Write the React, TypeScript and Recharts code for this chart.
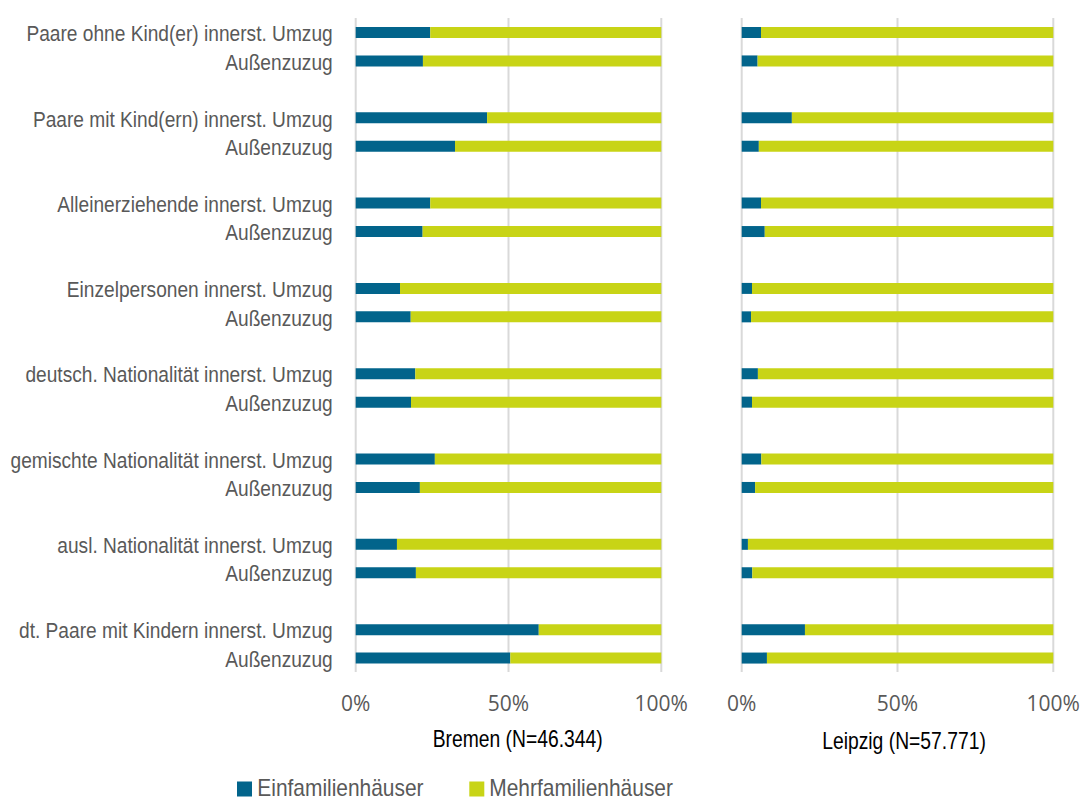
import React from 'react';
import { BarChart, Bar, XAxis, YAxis, CartesianGrid } from 'recharts';

// Row labels, two rows (inner-city move / in-migration) per household type
const categories = [
  'Paare ohne Kind(er) innerst. Umzug',
  'Außenzuzug',
  'Paare mit Kind(ern) innerst. Umzug',
  'Außenzuzug',
  'Alleinerziehende innerst. Umzug',
  'Außenzuzug',
  'Einzelpersonen innerst. Umzug',
  'Außenzuzug',
  'deutsch. Nationalität innerst. Umzug',
  'Außenzuzug',
  'gemischte Nationalität innerst. Umzug',
  'Außenzuzug',
  'ausl. Nationalität innerst. Umzug',
  'Außenzuzug',
  'dt. Paare mit Kindern innerst. Umzug',
  'Außenzuzug',
];

// Share of moves (%) by building type
const bremenEinfamilien = [24.4, 22.0, 43.0, 32.5, 24.4, 21.9, 14.5, 18.0, 19.5, 18.1, 25.9, 21.0, 13.5, 19.7, 59.9, 50.6];
const bremenMehrfamilien = [75.6, 78.0, 57.0, 67.5, 75.6, 78.1, 85.5, 82.0, 80.5, 81.9, 74.1, 79.0, 86.5, 80.3, 40.1, 49.4];
const leipzigEinfamilien = [6.2, 5.1, 16.1, 5.5, 6.2, 7.4, 3.3, 3.0, 5.2, 3.3, 6.3, 4.3, 2.0, 3.4, 20.3, 8.1];
const leipzigMehrfamilien = [93.8, 94.9, 83.9, 94.5, 93.8, 92.6, 96.7, 97.0, 94.8, 96.7, 93.7, 95.7, 98.0, 96.6, 79.7, 91.9];

const percentTicks = [0, 50, 100];
const seriesNames = ['Einfamilienhäuser', 'Mehrfamilienhäuser'];
const panelTitles = ['Bremen (N=46.344)', 'Leipzig (N=57.771)'];

const COLOR_EFH = '#02648b';
const COLOR_MFH = '#c8d416';
const GRID = '#d9d9d9';
const TEXT_GRAY = '#595959';
const SANS = '"Liberation Sans", Arial, sans-serif';

type Row = { id: string; label: string; efh?: number; mfh?: number };

// Insert an empty row between household groups to space them apart
function buildRows(efh: number[], mfh: number[]): Row[] {
  const rows: Row[] = [];
  categories.forEach((label, i) => {
    if (i > 0 && i % 2 === 0) rows.push({ id: `gap${i}`, label: '' });
    rows.push({ id: `row${i}`, label, efh: efh[i], mfh: mfh[i] });
  });
  return rows;
}

const bremenRows = buildRows(bremenEinfamilien, bremenMehrfamilien);
const leipzigRows = buildRows(leipzigEinfamilien, leipzigMehrfamilien);
const labelById: Record<string, string> = {};
bremenRows.forEach((r) => (labelById[r.id] = r.label));

// Horizontally condensed text (narrow sans look)
const NarrowText = ({ x, y, squeeze, anchor = 'start', fill, size, children }: any) => (
  <g transform={`translate(${x},${y}) scale(${squeeze},1)`}>
    <text x={0} y={0} textAnchor={anchor} fill={fill} fontFamily={SANS} fontSize={size}>
      {children}
    </text>
  </g>
);

const PercentTick = (props: any) => {
  const { x, y, payload } = props;
  return (
    <text x={x} y={y + 39} textAnchor="middle" fill={TEXT_GRAY} fontFamily='"Open Sans", sans-serif' fontSize={21}>
      {`${payload.value}%`}
    </text>
  );
};

const CategoryTick = (props: any) => {
  const { x, y, payload } = props;
  const label = labelById[payload.value] || '';
  if (!label) return null;
  return (
    <NarrowText x={x - 23} y={y + 9} squeeze={0.87} anchor="end" fill={TEXT_GRAY} size={22}>
      {label}
    </NarrowText>
  );
};

const PLOT_TOP = 18;
const X_AXIS_HEIGHT = 129;
const HEIGHT = 801;

export default function App() {
  return (
    <div style={{ position: 'absolute', left: 0, top: 0, width: 1082, height: 801, background: '#ffffff', overflow: 'hidden' }}>
      <div style={{ position: 'absolute', left: 0, top: 0 }}>
        <BarChart
          width={700}
          height={HEIGHT}
          data={bremenRows}
          layout="vertical"
          margin={{ top: PLOT_TOP, right: 38.7, bottom: 0, left: 0 }}
          barSize={11}
        >
          <CartesianGrid horizontal={false} stroke={GRID} strokeWidth={2} />
          <XAxis
            type="number"
            domain={[0, 100]}
            ticks={percentTicks}
            height={X_AXIS_HEIGHT}
            axisLine={false}
            tickLine={false}
            tickSize={0}
            tickMargin={0}
            tick={<PercentTick />}
            interval={0}
          />
          <YAxis
            type="category"
            dataKey="id"
            width={355.7}
            axisLine={false}
            tickLine={false}
            tickSize={0}
            tickMargin={0}
            tick={<CategoryTick />}
            interval={0}
          />
          <Bar dataKey="efh" stackId="s" fill={COLOR_EFH} isAnimationActive={false} name={seriesNames[0]} />
          <Bar dataKey="mfh" stackId="s" fill={COLOR_MFH} isAnimationActive={false} name={seriesNames[1]} />
        </BarChart>
      </div>
      <div style={{ position: 'absolute', left: 700, top: 0 }}>
        <BarChart
          width={382}
          height={HEIGHT}
          data={leipzigRows}
          layout="vertical"
          margin={{ top: PLOT_TOP, right: 28.7, bottom: 0, left: 41.7 }}
          barSize={11}
        >
          <CartesianGrid horizontal={false} stroke={GRID} strokeWidth={2} />
          <XAxis
            type="number"
            domain={[0, 100]}
            ticks={percentTicks}
            height={X_AXIS_HEIGHT}
            axisLine={false}
            tickLine={false}
            tickSize={0}
            tickMargin={0}
            tick={<PercentTick />}
            interval={0}
          />
          <YAxis type="category" dataKey="id" hide />
          <Bar dataKey="efh" stackId="s" fill={COLOR_EFH} isAnimationActive={false} name={seriesNames[0]} />
          <Bar dataKey="mfh" stackId="s" fill={COLOR_MFH} isAnimationActive={false} name={seriesNames[1]} />
        </BarChart>
      </div>
      <svg width={1082} height={801} style={{ position: 'absolute', left: 0, top: 0, pointerEvents: 'none' }}>
        <NarrowText x={517.7} y={746.7} squeeze={0.84} anchor="middle" fill="#000000" size={23}>
          {panelTitles[0]}
        </NarrowText>
        <NarrowText x={904} y={749.3} squeeze={0.84} anchor="middle" fill="#000000" size={23}>
          {panelTitles[1]}
        </NarrowText>
        <rect x={237} y={781.5} width={15} height={15} fill={COLOR_EFH} />
        <NarrowText x={257.3} y={796} squeeze={0.91} fill={TEXT_GRAY} size={23}>
          {seriesNames[0]}
        </NarrowText>
        <rect x={469.3} y={781.5} width={15} height={15} fill={COLOR_MFH} />
        <NarrowText x={489.3} y={796} squeeze={0.91} fill={TEXT_GRAY} size={23}>
          {seriesNames[1]}
        </NarrowText>
      </svg>
    </div>
  );
}
